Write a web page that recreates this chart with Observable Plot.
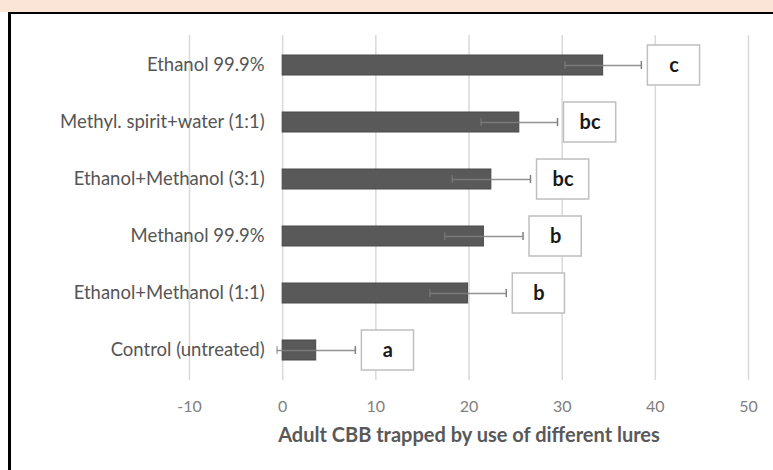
<!DOCTYPE html>
<html><head><meta charset="utf-8">
<script src="https://cdn.jsdelivr.net/npm/d3@7"></script>
<script src="https://cdn.jsdelivr.net/npm/@observablehq/plot@0.6"></script>
<style>
html,body{margin:0;padding:0;background:#fff;overflow:hidden;}
#band{height:12px;background:#fbe5d6;}
#frame{margin-left:8px;border-left:3px solid #000;border-top:2px solid #000;height:456px;overflow:hidden;}
</style></head>
<body><div id="band"></div><div id="frame"></div>
<script>
const lures = ["Ethanol 99.9%","Methyl. spirit+water (1:1)","Ethanol+Methanol (3:1)","Methanol 99.9%","Ethanol+Methanol (1:1)","Control (untreated)"];
const means = [34.4, 25.4, 22.4, 21.6, 19.9, 3.6];
const errors = [4.1, 4.1, 4.2, 4.2, 4.1, 4.2];
const letters = ["c","bc","bc","b","b","a"];
const xTicks = [-10, 0, 10, 20, 30, 40, 50];

const data = lures.map((l,i)=>({lure:l, mean:means[i], err:errors[i], lo:means[i]-errors[i], hi:means[i]+errors[i], letter:letters[i]}));
const boxGap = 0.7, boxW = 5.6;
data.forEach(d=>{d.b1 = d.hi+boxGap; d.b2 = d.b1+boxW; d.bc=(d.b1+d.b2)/2;});

const font = "Lato, 'Open Sans', sans-serif";
const chart = Plot.plot({
  width: 762, height: 456,
  marginLeft: 178, marginRight: 25, marginTop: 21, marginBottom: 90,
  style: {fontFamily: font, background: "#fff"},
  x: {domain: [-10, 50], ticks: xTicks},
  y: {domain: lures, paddingInner: 0.652, paddingOuter: 0.326, axis: null},
  marks: [
    Plot.gridX(xTicks, {stroke: "#d9d9d9", strokeOpacity: 1, strokeWidth: 1.5}),
    Plot.axisX(xTicks, {tickSize: 0, tickPadding: 20, fontSize: 16, fill: "#808080", label: null, tickFormat: d => String(d)}),
    Plot.text(["Adult CBB trapped by use of different lures"], {frameAnchor: "bottom", dy: 61, fontSize: 20, fontWeight: "bold", fill: "#595959"}),
    Plot.text(data, {x: 0, y: "lure", text: "lure", textAnchor: "end", dx: -18, fontSize: 18.5, fill: "#555555"}),
    Plot.barX(data, {x: "mean", y: "lure", fill: "#595959", stroke: "#4a4a4a", strokeWidth: 1}),
    Plot.ruleY(data, {x1: "lo", x2: "hi", y: "lure", stroke: "#808080", strokeWidth: 1.5, strokeOpacity: 0.85}),
    Plot.tickX(data, {x: "hi", y: "lure", stroke: "#808080", strokeWidth: 1.5, insetTop: 6, insetBottom: 6}),
    Plot.tickX(data, {x: "lo", y: "lure", stroke: "#808080", strokeWidth: 1.5, strokeOpacity: 0.6, insetTop: 6, insetBottom: 6}),
    Plot.barX(data, {x1: "b1", x2: "b2", y: "lure", fill: "#fff", stroke: "#bfbfbf", strokeWidth: 1.5, insetTop: -10, insetBottom: -10}),
    Plot.text(data, {x: "bc", y: "lure", text: "letter", fontSize: 20, fontWeight: "bold", fill: "#1a1a1a"})
  ]
});
document.getElementById("frame").appendChild(chart);
</script></body></html>
